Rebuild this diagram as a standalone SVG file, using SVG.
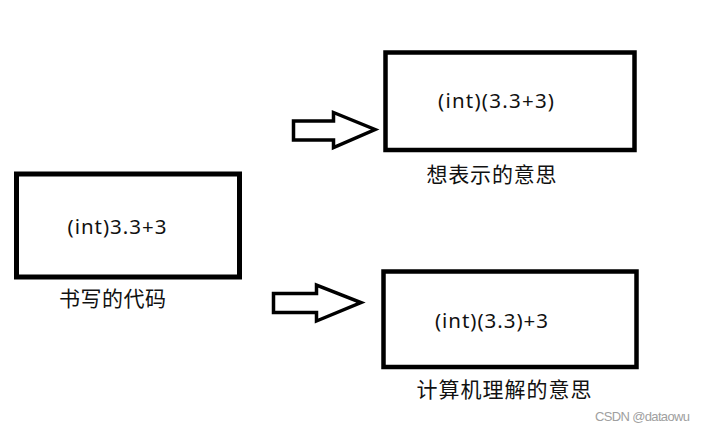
<svg xmlns="http://www.w3.org/2000/svg" width="705" height="432" viewBox="0 0 705 432">
<style>
.box{fill:#fff;stroke:#000;stroke-width:4.5}
.arrow{fill:#fff;stroke:#000;stroke-width:3.5;stroke-linejoin:miter}
.code{font-family:"Noto Sans","Open Sans",sans-serif;font-size:20.5px;fill:#111}
.cn{font-family:"Noto Sans CJK SC","Noto Sans",sans-serif;font-size:21px;fill:#111}
.wm{font-family:"Liberation Sans",Arial,sans-serif;font-size:13px;fill:#a0a0a0}
</style>
<rect width="705" height="432" fill="#fff"/>
<g id="connectors">
<polygon class="arrow" points="293.5,121 333.5,121 333.5,112.5 375,129.5 333.5,147.5 333.5,140 293.5,140"/>
<polygon class="arrow" points="273.5,293.5 316.5,293.5 316.5,285 361,302.5 316.5,321 316.5,312.5 273.5,312.5"/>
</g>
<g id="written">
<rect class="box" x="16.5" y="174" width="223" height="103" style="stroke-width:5"/>
<text class="code" x="67.5" y="234" textLength="99" lengthAdjust="spacing">(int)3.3+3</text>
<text class="cn" x="59" y="305.5" textLength="107" lengthAdjust="spacing">书写的代码</text>
</g>
<g id="intended">
<rect class="box" x="385.5" y="52.5" width="249" height="97.5"/>
<text class="code" x="438" y="108" textLength="116" lengthAdjust="spacing">(int)(3.3+3)</text>
<text class="cn" x="426.5" y="181.5" textLength="130" lengthAdjust="spacing">想表示的意思</text>
</g>
<g id="computer">
<rect class="box" x="383.5" y="271.5" width="253" height="95.5"/>
<text class="code" x="435" y="328" textLength="113" lengthAdjust="spacing">(int)(3.3)+3</text>
<text class="cn" x="416.5" y="396.5" textLength="175" lengthAdjust="spacing">计算机理解的意思</text>
</g>
<text class="wm" x="595" y="420.5" textLength="95" lengthAdjust="spacing">CSDN @dataowu</text>
</svg>
